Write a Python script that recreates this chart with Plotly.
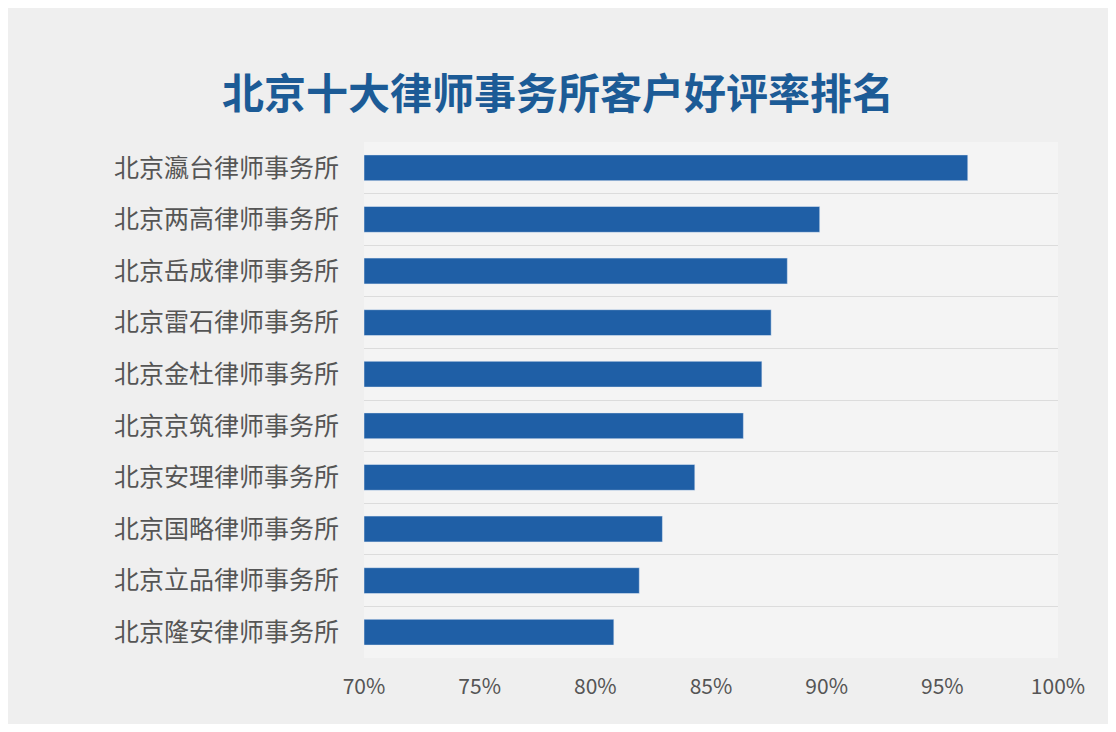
import plotly.graph_objects as go

firms = ["北京瀛台律师事务所","北京两高律师事务所","北京岳成律师事务所","北京雷石律师事务所",
         "北京金杜律师事务所","北京京筑律师事务所","北京安理律师事务所","北京国略律师事务所",
         "北京立品律师事务所","北京隆安律师事务所"]
rates = [96.1, 89.7, 88.3, 87.6, 87.2, 86.4, 84.3, 82.9, 81.9, 80.8]
xticks = [70, 75, 80, 85, 90, 95, 100]

fig = go.Figure(go.Bar(
    x=[r - 70 for r in rates], base=70, y=firms, orientation="h",
    marker_color="#1f5fa6", width=0.5))
fig.update_layout(
    width=1100, height=716,
    paper_bgcolor="#efefef", plot_bgcolor="#f4f4f4",
    margin=dict(l=356, r=50, t=134, b=66),
    title=dict(text="<b>北京十大律师事务所客户好评率排名</b>", x=0.5, xref="container",
               y=0.9, font=dict(family="Noto Sans CJK SC", size=42, color="#1c5b96")),
    font=dict(family="Noto Sans CJK SC", color="#555555"),
    showlegend=False,
    bargap=0.5,
)
fig.update_xaxes(range=[70, 100], tickvals=xticks, ticktext=[f"{t}%" for t in xticks],
                 showgrid=False, zeroline=False, tickfont=dict(size=21), ticklabelstandoff=14)
fig.update_yaxes(autorange="reversed", categoryorder="array", categoryarray=firms,
                 tickson="boundaries", showgrid=True, gridcolor="#dcdcdc", gridwidth=1,
                 ticks="", tickfont=dict(size=25), ticklabelstandoff=24)
fig.write_html("out.html")
